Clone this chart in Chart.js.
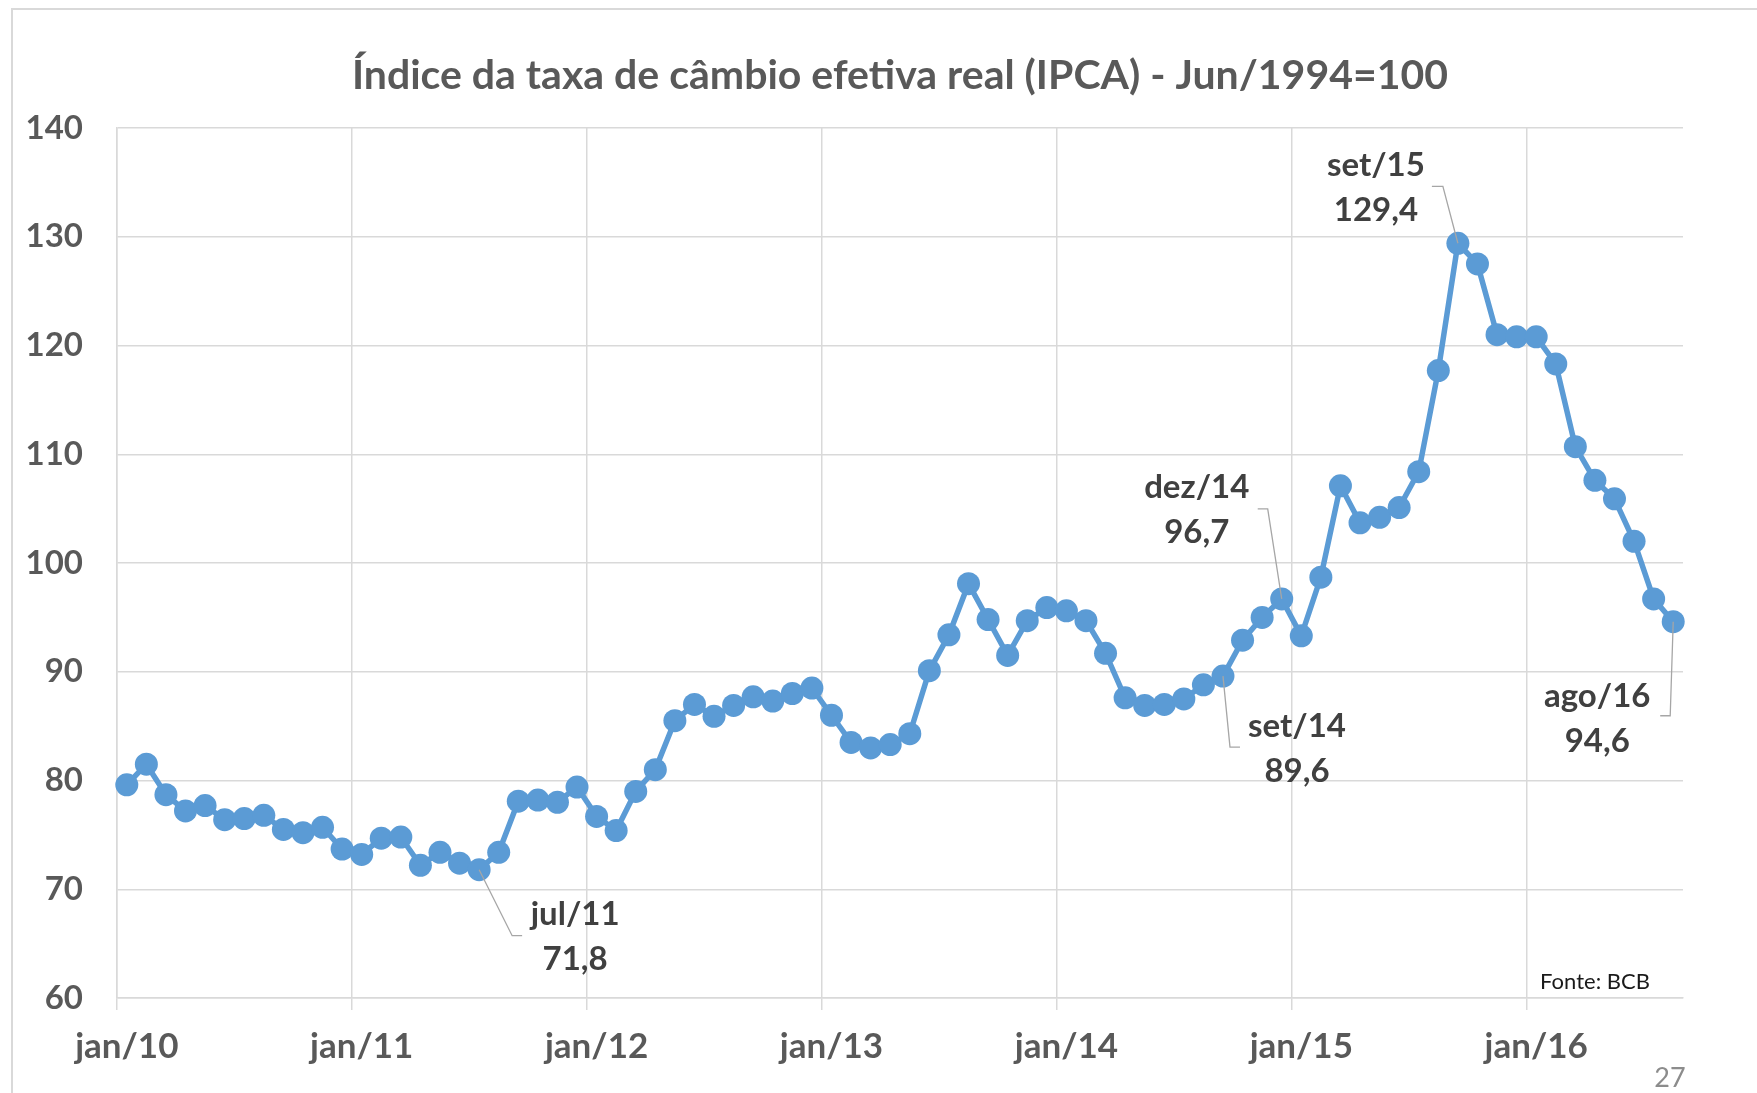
<!DOCTYPE html>
<html lang="pt-br">
<head>
<meta charset="UTF-8">
<title>Índice da taxa de câmbio efetiva real (IPCA)</title>
<script src="https://cdn.jsdelivr.net/npm/chart.js"></script>
<style>
  html, body { margin: 0; padding: 0; background: #fff; overflow: hidden; }
  .tela { position: relative; width: 1757px; height: 1093px; }
  .moldura { position: absolute; left: 11px; top: 8px; width: 1800px; height: 1200px; border: 2px solid #d9d9d9; box-sizing: border-box; }
  #grafico { position: absolute; left: 0; top: 0; }
</style>
</head>
<body>
<div class="tela">
  <div class="moldura"></div>
  <canvas id="grafico" width="1757" height="1093"></canvas>
</div>
<script>
// meses (categorias do eixo x)
const meses = [
  'jan/10','fev/10','mar/10','abr/10','mai/10','jun/10','jul/10','ago/10','set/10','out/10','nov/10','dez/10',
  'jan/11','fev/11','mar/11','abr/11','mai/11','jun/11','jul/11','ago/11','set/11','out/11','nov/11','dez/11',
  'jan/12','fev/12','mar/12','abr/12','mai/12','jun/12','jul/12','ago/12','set/12','out/12','nov/12','dez/12',
  'jan/13','fev/13','mar/13','abr/13','mai/13','jun/13','jul/13','ago/13','set/13','out/13','nov/13','dez/13',
  'jan/14','fev/14','mar/14','abr/14','mai/14','jun/14','jul/14','ago/14','set/14','out/14','nov/14','dez/14',
  'jan/15','fev/15','mar/15','abr/15','mai/15','jun/15','jul/15','ago/15','set/15','out/15','nov/15','dez/15',
  'jan/16','fev/16','mar/16','abr/16','mai/16','jun/16','jul/16','ago/16'
];

// indice da taxa de cambio efetiva real (IPCA), jun/1994 = 100
const indice = [
  79.6, 81.5, 78.7, 77.2, 77.7, 76.4, 76.5, 76.8, 75.5, 75.2, 75.7, 73.7,
  73.2, 74.7, 74.8, 72.2, 73.4, 72.4, 71.8, 73.4, 78.1, 78.2, 78.0, 79.4,
  76.7, 75.4, 79.0, 81.0, 85.5, 87.0, 85.9, 86.9, 87.7, 87.3, 88.0, 88.5,
  86.0, 83.5, 83.0, 83.3, 84.3, 90.1, 93.4, 98.1, 94.8, 91.5, 94.7, 95.9,
  95.6, 94.7, 91.7, 87.6, 86.9, 87.0, 87.5, 88.8, 89.6, 92.9, 95.0, 96.7,
  93.3, 98.7, 107.1, 103.7, 104.2, 105.1, 108.4, 117.7, 129.4, 127.5, 121.0, 120.8,
  120.8, 118.3, 110.7, 107.6, 105.9, 102.0, 96.7, 94.6
];

// limites do eixo y
const eixoYMin = 60;
const eixoYMax = 140;
const eixoYPasso = 10;

// pontos com rotulo (indices em "meses")
const destaques = [18, 56, 59, 68, 79];

// posicao dos rotulos em relacao ao ponto (texto e linha de chamada)
const posRotulos = {
  18: { tx: 96,  ty: 45,   cx: 33,  cy: 66,  ex: 43 },
  56: { tx: 74,  ty: 50,   cx: 7,   cy: 71,  ex: 17 },
  59: { tx: -85, ty: -112, cx: -14, cy: -90, ex: -24 },
  68: { tx: -82, ty: -78,  cx: -15, cy: -57, ex: -26 },
  79: { tx: -76, ty: 75,   cx: -3,  cy: 94,  ex: -13 }
};

const fonte = 'Lato, "Open Sans", sans-serif';
const corGrade = '#d9d9d9';
const corTexto = '#595959';

// desenha titulo, fonte, numero da pagina e rotulos dos pontos
const textosExtras = {
  id: 'textosExtras',
  afterDatasetsDraw(chart) {
    const ctx = chart.ctx;
    const meta = chart.getDatasetMeta(0);
    ctx.save();
    destaques.forEach(function (i) {
      const p = meta.data[i];
      const pos = posRotulos[i];
      // linha de chamada
      ctx.strokeStyle = '#a6a6a6';
      ctx.lineWidth = 1.3;
      ctx.beginPath();
      ctx.moveTo(p.x, p.y);
      ctx.lineTo(p.x + pos.cx, p.y + pos.cy);
      ctx.lineTo(p.x + pos.ex, p.y + pos.cy);
      ctx.stroke();
      // texto
      ctx.fillStyle = '#404040';
      ctx.font = 'bold 33px ' + fonte;
      ctx.textAlign = 'center';
      ctx.textBaseline = 'middle';
      ctx.fillText(meses[i], p.x + pos.tx, p.y + pos.ty);
      ctx.fillText(indice[i].toFixed(1).replace('.', ','), p.x + pos.tx, p.y + pos.ty + 45);
    });
    ctx.restore();
  },
  afterDraw(chart) {
    const ctx = chart.ctx;
    const area = chart.chartArea;
    ctx.save();
    ctx.textAlign = 'center';
    ctx.textBaseline = 'middle';
    ctx.fillStyle = corTexto;
    ctx.font = 'bold 41px ' + fonte;
    ctx.fillText('Índice da taxa de câmbio efetiva real (IPCA) - Jun/1994=100', (area.left + area.right) / 2, 76);

    ctx.fillStyle = '#1a1a1a';
    ctx.font = '22px ' + fonte;
    ctx.fillText('Fonte: BCB', 1595, 982);

    ctx.fillStyle = '#8c8c8c';
    ctx.font = '27px ' + fonte;
    ctx.fillText('27', 1670, 1078);
    ctx.restore();
  }
};

const config = {
  type: 'line',
  data: {
    labels: meses,
    datasets: [{
      label: 'Índice',
      data: indice,
      borderColor: '#5b9bd5',
      backgroundColor: '#5b9bd5',
      borderWidth: 5.5,
      pointRadius: 11.5,
      pointBorderWidth: 0,
      pointBackgroundColor: '#5b9bd5',
      tension: 0,
      fill: false
    }]
  },
  options: {
    responsive: false,
    animation: false,
    devicePixelRatio: 1,
    layout: { padding: { top: 128, right: 74, bottom: 0, left: 0 } },
    plugins: {
      legend: { display: false },
      title: { display: false },
      tooltip: { enabled: false }
    },
    scales: {
      x: {
        offset: true,
        grid: {
          offset: true,
          lineWidth: 1.5,
          tickLength: 12,
          color: function (c) { return c.index % 12 === 0 ? corGrade : 'transparent'; }
        },
        border: { color: corGrade, width: 1.5 },
        ticks: {
          autoSkip: false,
          maxRotation: 0,
          padding: 16,
          color: corTexto,
          font: { family: fonte, size: 35, weight: 'bold' },
          callback: function (v, i) { return meses[i].startsWith('jan') ? meses[i] : ''; }
        },
        afterFit: function (s) { s.height = 95; }
      },
      y: {
        min: eixoYMin,
        max: eixoYMax,
        grid: { color: corGrade, lineWidth: 1.5, drawTicks: false },
        border: { color: corGrade, width: 1.5 },
        ticks: {
          stepSize: eixoYPasso,
          padding: 34,
          color: corTexto,
          font: { family: fonte, size: 33, weight: 'bold' }
        },
        afterFit: function (s) { s.width = 117; }
      }
    }
  },
  plugins: [textosExtras]
};

let grafico = new Chart(document.getElementById('grafico'), config);
</script>
</body>
</html>
